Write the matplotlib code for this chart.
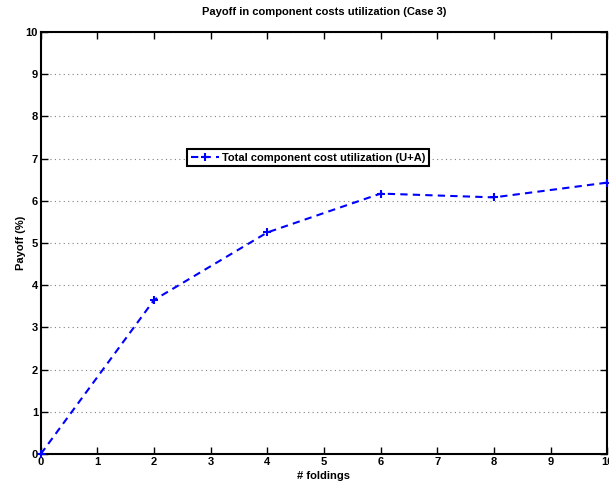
import matplotlib
matplotlib.use("Agg")
import matplotlib.pyplot as plt

foldings = [0, 2, 4, 6, 8, 10]
payoff = [0, 3.65, 5.25, 6.17, 6.08, 6.43]
xticks = list(range(0, 11))
yticks = list(range(0, 11))

plt.rcParams['font.family'] = ['Liberation Sans', 'DejaVu Sans']
plt.rcParams['font.weight'] = 'bold'
plt.rcParams['font.size'] = 8

fig = plt.figure(figsize=(6.09, 4.84), dpi=100)
ax = fig.add_axes([0.067, 0.062, 0.93, 0.872])

ax.plot(foldings, payoff, color="blue", linestyle="--", linewidth=1.5, marker="+",
        markersize=6, markeredgewidth=1.5, dashes=(3.5, 2.5),
        label="Total component cost utilization (U+A)", clip_on=False, zorder=3)

ax.set_xlim(0, 10)
ax.set_ylim(0, 10)
ax.set_xticks(xticks)
ax.set_yticks(yticks)
ax.tick_params(direction="in", top=True, right=True, length=5, width=1, pad=2, labelsize=8)
for lbl in ax.get_xticklabels() + ax.get_yticklabels():
    lbl.set_fontweight("bold")
ax.yaxis.grid(True, linestyle=(0, (1, 3)), color="gray", linewidth=0.8)
for s in ax.spines.values():
    s.set_linewidth(1.5)

ax.set_title("Payoff in component costs utilization (Case 3)", fontweight="bold", fontsize=8, pad=12)
ax.set_xlabel("# foldings", fontweight="bold", fontsize=8, labelpad=3)
ax.set_ylabel("Payoff (%)", fontweight="bold", fontsize=8, labelpad=0)

leg = ax.legend(loc="upper left", bbox_to_anchor=(0.259, 0.722), fancybox=False,
                edgecolor="black", framealpha=1, borderpad=0.3, handlelength=2.5,
                handletextpad=0.3, borderaxespad=0, prop={"weight": "bold", "size": 8})
leg.get_frame().set_linewidth(1.5)

fig.savefig("out.png", dpi=100)
